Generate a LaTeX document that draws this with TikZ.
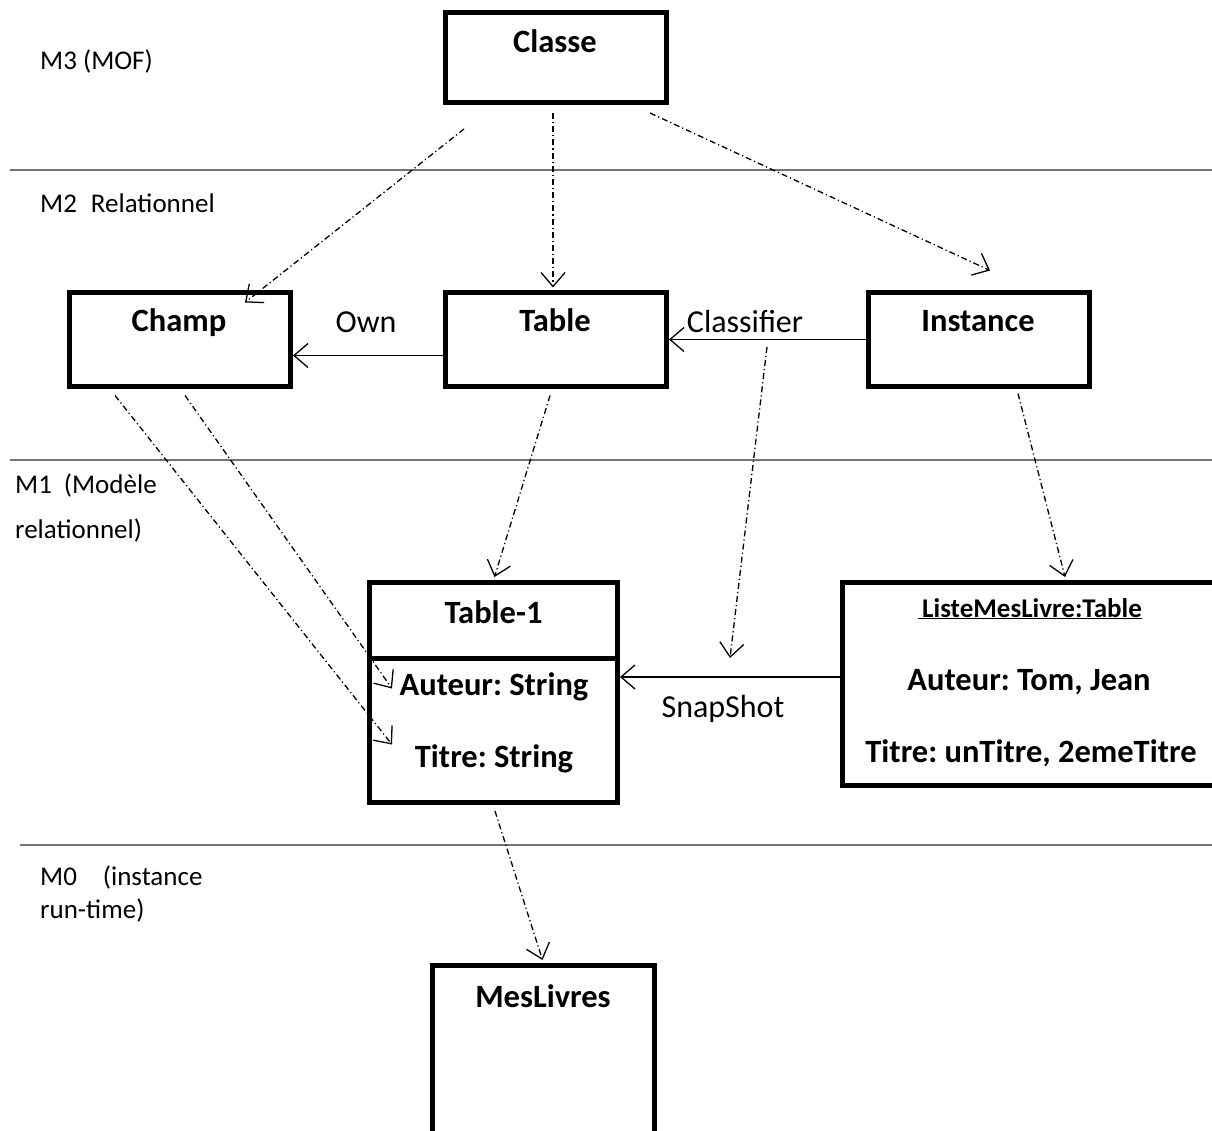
\documentclass[tikz,border=0pt]{standalone}
\usepackage{fontspec}
\setmainfont{Carlito}
\usepackage{tikz}
\usetikzlibrary{
	arrows.meta,
	positioning,
	calc
}
\frenchspacing

\begin{document}
\begin{tikzpicture}[x=1pt, y=-1pt,
				box/.style={
					rectangle, draw, line width=5pt, inner sep=0pt
				},
				boxtext/.style={
					inner sep=0pt, anchor=base, font=\fontsize{32.5}{38}\selectfont\bfseries
				},
				smalltext/.style={
					boxtext, font=\fontsize{27}{32}\selectfont\bfseries
				},
				layer/.style={
					inner sep=0pt, anchor=base west, font=\fontsize{27}{32}\selectfont
				},
				linklabel/.style={
					inner sep=0pt, anchor=base, font=\fontsize{32}{38}\selectfont
				},
				divider/.style={line width=1.5pt, black!55},
				arrow/.style={-{Straight Barb[length=14pt, width=24pt]}, line width=1.3pt},
				dep/.style={arrow, dash pattern=on 6pt off 3pt on 1.2pt off 3pt},
				]
				\useasboundingbox (0,0) rectangle (1212,1131);
				
				%levels
				\node[layer] (m3) at (40,70) {M3 (MOF)};
				\node[layer] (m2) at (40,213) {M2\hspace{14pt}Relationnel};
				\node[layer] (m1a) at (15,493) {M1\hspace{12pt}(Modèle};
				\node[layer] (m1b) at (15,538) {relationnel)};
				\node[layer] (m0a) at (40,885) {M0\hspace{26pt}(instance};
				\node[layer] (m0b) at (40,918) {run-time)};
				
				\draw[divider] (10,170) -- (1212,170);
				\draw[divider] (10,460) -- (1212,460);
				\draw[divider] (20,845) -- (1212,845);
				
				%M3
				\node[box, minimum width=221pt, minimum height=90pt] (classe) at (556,57.5) {};
				\node[boxtext] (classeT) at (555,53) {Classe};
				
				%M2
				\node[box, minimum width=221pt, minimum height=93pt] (champ) at (180,339.5) {};
				\node[boxtext] (champT) at (179,332) {Champ};
				
				\node[box, minimum width=221pt, minimum height=93pt] (table) at (556,339.5) {};
				\node[boxtext] (tableT) at (555,332) {Table};
				
				\node[box, minimum width=221pt, minimum height=93pt] (instance) at (979,339.5) {};
				\node[boxtext] (instanceT) at (978,332) {Instance};
				
				\draw[dep] ($(classe.south)+(-92,24)$) -- ($(champ.north)+(65,12)$);
				\draw[dep] ($(classe.south)+(-3,8)$) -- ($(table.north)+(-3,-3)$);
				\draw[dep] ($(classe.south)+(94,8)$) -- ($(instance.north)+(11,-20)$);
				
				\node[linklabel] (own) at (366,333) {Own};
				\draw[arrow] ($(table.west)+(0,16)$) -- ($(champ.east)+(0,16)$);
				
				\node[linklabel] (classifier) at (745,333) {Classifier};
				\draw[arrow] (instance.west) -- (table.east);
				
				%M1
				\node[box, minimum width=248pt, minimum height=220pt] (table1) at (493.5,692.5) {};
				\draw[line width=5pt] ($(table1.north west)+(0,78)$) -- ($(table1.north east)+(0,78)$);
				\node[boxtext] (table1T) at (493.5,623) {Table-1};
				\node[boxtext] (auteurT) at (494,695) {Auteur: String};
				\node[boxtext] (titreT) at (494,767) {Titre: String};
				
				\node[box, minimum width=385pt, minimum height=203pt] (liste) at (1035,684) {};
				\node[smalltext] (listeT) at (1030,617) {\underline{\hspace{4pt}ListeMesLivre:Table}};
				\node[boxtext] (listeA) at (1029,690) {Auteur: Tom, Jean};
				\node[boxtext] (listeB) at (1031,762) {Titre: unTitre, 2emeTitre};
				
				\node[linklabel] (snapshot) at (723,717) {SnapShot};
				\coordinate (snapY) at ($(liste.west)+(0,-7)$);
				\draw[arrow] (snapY) -- (snapY -| table1.east);
				
				\draw[dep] ($(champ.south)+(-65,7)$) -- ($(table1.west)+(25,52)$);
				\draw[dep] ($(champ.south)+(5,7)$) -- ($(table1.west)+(25,-4)$);
				\draw[dep] ($(table.south)+(-6,7)$) -- ($(table1.north)+(1,-3)$);
				\draw[dep] ($(instance.south)+(39,5)$) -- ($(liste.north)+(30,-3)$);
				\draw[dep] ($(classifier.base)+(22,14)$) -- ($(snapshot.base)+(7,-59)$);
				
				%M0
				\node[box, minimum width=222pt, minimum height=300pt] (meslivres) at (543.5,1115.5) {};
				\node[boxtext] (meslivresT) at (543,1007) {MesLivres};
				\draw[dep] ($(table1.south)+(1.5,6)$) -- ($(meslivres.north)+(-1,-3)$);
\end{tikzpicture}
\end{document}
